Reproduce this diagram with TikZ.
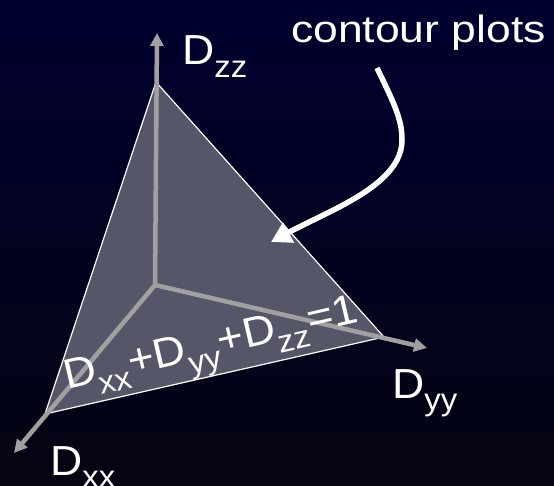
\documentclass[tikz,border=0pt]{standalone}
\usepackage{fontspec}
\setmainfont{Liberation Sans}
\usetikzlibrary{arrows.meta}
\definecolor{bgtop}{RGB}{0,0,48}
\definecolor{bgbot}{RGB}{4,4,18}
\definecolor{planefill}{RGB}{85,87,105}
\definecolor{axisgray}{RGB}{160,160,160}
\newcommand\sbs[1]{\raisebox{-0.3em}{\fontsize{31bp}{31bp}\selectfont #1}}
\tikzset{
  lbl/.style={text=white, inner sep=0pt, anchor=base west,
    font=\fontsize{42bp}{42bp}\selectfont},
  axisline/.style={draw=axisgray, line width=4.5bp,
    -{Triangle[length=13bp,width=13bp]}},
  plane/.style={fill=planefill, draw=white, line width=1.2bp, line join=miter},
  pointer/.style={draw=white, line width=5.5bp,
    -{Triangle[length=20bp,width=22bp]}},
}
\begin{document}
\begin{tikzpicture}[x=1bp,y=1bp]
\useasboundingbox (0,0) rectangle (554,-486);
\shade[top color=bgtop, bottom color=bgbot] (0,0) rectangle (554,-486);
% points
\coordinate (O) at (155,-285);
\coordinate (Z) at (156,-82);
\coordinate (Y) at (384,-337);
\coordinate (X) at (45,-414);
\coordinate (Zt) at (157,-33);
\coordinate (Yt) at (427,-348);
\coordinate (Xt) at (14,-453);
% plane
\path[plane] (Z) -- (Y) -- (X) -- cycle;
% axes
\draw[axisline] (O) -- (Zt);
\draw[axisline] (O) -- (Yt);
\draw[axisline] (O) -- (Xt);
% labels
\node[lbl, xscale=1.06] (lz) at (182,-65) {D\sbs{zz}};
\node[lbl, xscale=1.06] (ly) at (392,-398) {D\sbs{yy}};
\node[lbl, xscale=1.06] (lx) at (50,-475) {D\sbs{xx}};
\node[lbl, font=\fontsize{38bp}{38bp}\selectfont, xscale=1.17] (cp) at (291,-43) {contour plots};
\node[lbl, rotate=13, xscale=1.07] (eq) at (67,-390) {D\sbs{xx}+D\sbs{yy}+D\sbs{zz}=1};
% pointer arrow
\coordinate (p0) at (377,-68);
\coordinate (p1) at (402,-140);
\coordinate (p2) at (271,-242);
\draw[pointer] (p0) .. controls (395,-105) and (402,-120) .. (p1)
  .. controls (402,-185) and (330,-210) .. (p2);
\end{tikzpicture}
\end{document}
